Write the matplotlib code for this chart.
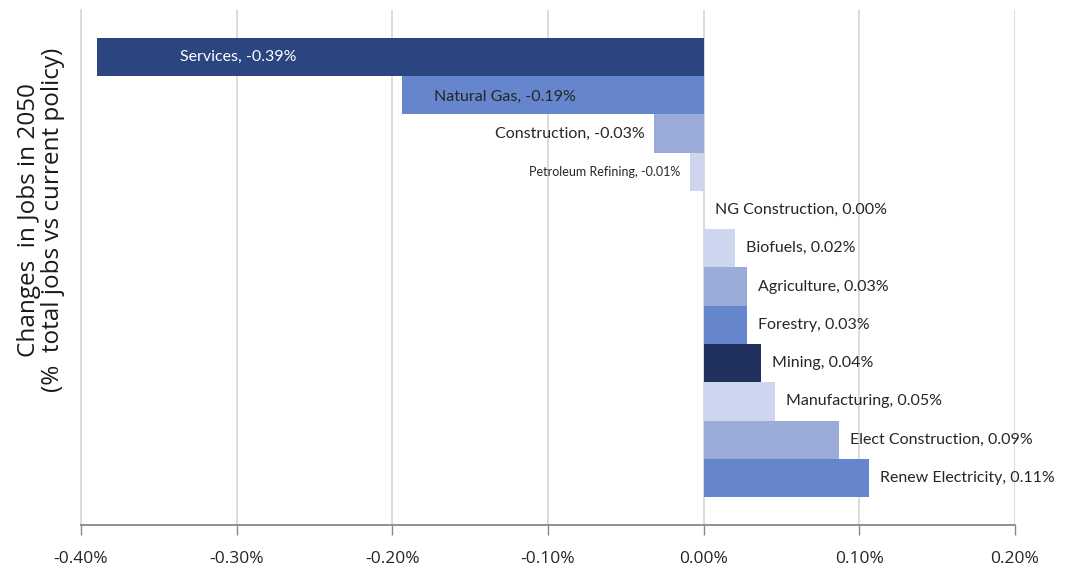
import numpy as np
import matplotlib.pyplot as plt

# Dati: variazione posti di lavoro nel 2050 (% del totale vs politica attuale)
settori = ['Services', 'Natural Gas', 'Construction', 'Petroleum Refining',
           'NG Construction', 'Biofuels', 'Agriculture', 'Forestry', 'Mining',
           'Manufacturing', 'Elect Construction', 'Renew Electricity']
variazioni = [-0.390, -0.194, -0.032, -0.009, 0.0, 0.020, 0.028, 0.028,
              0.037, 0.046, 0.087, 0.106]
colori = ['#2b4580', '#6585cc', '#9aabd9', '#cdd6ee', '#cdd6ee', '#cdd6ee',
          '#9aabd9', '#6585cc', '#20305c', '#cdd6ee', '#9aabd9', '#6585cc']
x_ticks = [-0.4, -0.3, -0.2, -0.1, 0.0, 0.1, 0.2]

plt.rcParams['font.family'] = ['Liberation Sans Narrow', 'Open Sans', 'DejaVu Sans']

fig = plt.figure(figsize=(10.85, 5.73), dpi=100)
ax = fig.add_axes([0.0747, 0.0838, 0.8608, 0.899])

y = np.arange(len(settori))
ax.barh(y, variazioni, height=1.0, color=colori, zorder=3)

ax.set_xlim(-0.4, 0.2)
ax.set_ylim(len(settori) - 1 + 1.23, -1.23)
ax.set_xticks(x_ticks)
ax.set_xticklabels([f'{t:.2f}%' for t in x_ticks], fontsize=12.5, color='#262626')
ax.set_yticks([])
ax.grid(axis='x', color='#d9d9d9', linewidth=1.3, zorder=0)
ax.tick_params(axis='x', direction='out', length=7, width=1, color='#888888', pad=12)

for lato in ['top', 'right']:
    ax.spines[lato].set_visible(False)
ax.spines['left'].set_color('#d9d9d9')
ax.spines['left'].set_linewidth(1.3)
ax.spines['bottom'].set_color('#888888')
ax.spines['bottom'].set_linewidth(1.3)

# Etichette delle barre
font_lab = ['Lato', 'DejaVu Sans']
for i, (nome, v) in enumerate(zip(settori, variazioni)):
    testo = f'{nome}, {v:.2f}%'
    if nome == 'Services':
        ax.text(-0.299, i, testo, ha='center', va='center', color='white',
                fontsize=11.5, family=font_lab, zorder=4)
    elif nome == 'Natural Gas':
        ax.text(v + 0.021, i + 0.05, testo, ha='left', va='center', color='#262626',
                fontsize=11.5, family=font_lab, zorder=4)
    elif v < 0:
        fs = 9 if nome == 'Petroleum Refining' else 11.5
        ax.text(v - 0.006, i, testo, ha='right', va='center', color='#262626',
                fontsize=fs, family=font_lab, zorder=4)
    else:
        ax.text(v + 0.007, i, testo, ha='left', va='center', color='#262626',
                fontsize=11.5, family=font_lab, zorder=4)

# Titolo asse y, spostato verso l'alto come nell'originale
fig.text(41 / 1085, 1 - 220 / 573,
         'Changes  in Jobs in 2050\n(%  total jobs vs current policy)',
         rotation=90, ha='center', va='center', multialignment='center',
         fontsize=17.5, color='#1a1a1a', family=['Open Sans', 'DejaVu Sans'],
         linespacing=1.05)

fig.savefig('out.png', dpi=100)
